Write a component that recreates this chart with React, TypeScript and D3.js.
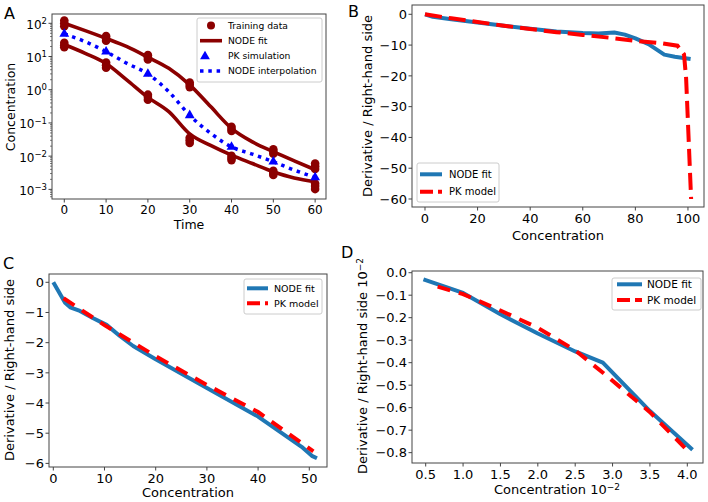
import React from 'react';
import * as d3 from 'd3';

const FONT = '"DejaVu Sans", Verdana, sans-serif';
const DARKRED = '#8b0000';
const BLUE = '#0000ff';
const NODE_BLUE = '#1f77b4';
const PK_RED = '#ff0000';

// ---- panel A: concentration vs time (log) ----
const trainTimes = [0, 10, 20, 30, 40, 50, 60];
const trainUpper = [
  [82, 100, 122], [30, 35, 41], [8.2, 9.5, 11], [1.2, 1.4, 1.65],
  [0.057, 0.066, 0.077], [0.0118, 0.0138, 0.016], [0.0041, 0.005, 0.006],
];
const trainLower = [
  [19, 22, 26], [4.6, 5.5, 6.6], [0.5, 0.6, 0.71], [0.025, 0.03, 0.036],
  [0.0076, 0.0088, 0.0102], [0.0027, 0.0031, 0.0036], [0.00102, 0.00126, 0.0015],
];
const fitTimes = [0, 5, 10, 15, 20, 25, 30, 35, 40, 45, 50, 55, 60];
const fitUpper = [100, 60, 35, 19.7, 9.5, 4.4, 1.4, 0.31, 0.069, 0.027, 0.0136, 0.0072, 0.0039];
const fitLower = [23, 12.5, 6.2, 1.95, 0.59, 0.22, 0.047, 0.021, 0.0107, 0.006, 0.0034, 0.0022, 0.0017];
const pkSimulation = [48, 14, 3.0, 0.17, 0.019, 0.0068, 0.0023];
const nodeInterpolation = [48, 28, 14, 6.2, 3.0, 0.87, 0.17, 0.049, 0.019, 0.0115, 0.0068, 0.0038, 0.0023];
const logTickExps = [-3, -2, -1, 0, 1, 2];
const timeTicks = [0, 10, 20, 30, 40, 50, 60];

// ---- panel B ----
const bNodeX = [0, 3, 10, 20, 30, 40, 50, 60, 66, 72, 76, 80, 85, 88, 91, 95, 101];
const bNodeY = [0, -0.8, -1.6, -2.7, -3.7, -4.7, -5.6, -6.1, -6.2, -5.9, -6.6, -7.8, -9.7, -11.4, -13.1, -13.8, -14.5];
const bPkX = [0, 10, 20, 30, 40, 50, 60, 70, 80, 90, 96, 98.5, 99.3, 101.2];
const bPkY = [0, -1.3, -2.5, -3.7, -4.8, -5.8, -6.7, -7.6, -8.6, -9.4, -10.2, -13, -20.8, -60];
const bXTicks = [0, 20, 40, 60, 80, 100];
const bYTicks = [0, -10, -20, -30, -40, -50, -60];

// ---- panel C ----
const cNodeX = [0, 2.3, 3.3, 5.2, 7.8, 10.4, 13, 15.6, 20, 30, 40, 48.5, 50.5, 51.5];
const cNodeY = [0, -0.68, -0.83, -0.95, -1.19, -1.41, -1.78, -2.11, -2.55, -3.5, -4.45, -5.45, -5.75, -5.83];
const cPkX = [2, 10, 20, 30, 40, 50.8];
const cPkY = [-0.53, -1.42, -2.45, -3.4, -4.3, -5.6];
const cXTicks = [0, 10, 20, 30, 40, 50];
const cYTicks = [0, -1, -2, -3, -4, -5, -6];

// ---- panel D ----
const dNodeX = [0.47, 1.0, 1.5, 2.0, 2.5, 2.87, 3.5, 4.07];
const dNodeY = [-0.03, -0.09, -0.185, -0.27, -0.35, -0.4, -0.615, -0.787];
const dPkX = [0.66, 1.0, 1.5, 2.0, 2.5, 2.88, 3.5, 4.04];
const dPkY = [-0.062, -0.095, -0.168, -0.245, -0.345, -0.447, -0.62, -0.803];
const dXTicks = [0.5, 1.0, 1.5, 2.0, 2.5, 3.0, 3.5, 4.0];
const dYTicks = [0, -0.1, -0.2, -0.3, -0.4, -0.5, -0.6, -0.7, -0.8];

const fmtInt = d3.format('d');
const fmt1 = (v: number) => (Math.abs(v) < 1e-9 ? '0.0' : d3.format('.1f')(v));

function Frame({ x0, x1, y0, y1 }) {
  return <rect x={x0} y={y0} width={x1 - x0} height={y1 - y0} fill="none" stroke="#444" strokeWidth={1} />;
}

function XTicks({ scale, ticks, y, fs, fmt }) {
  return (
    <g>
      {ticks.map((t) => (
        <g key={t}>
          <line x1={scale(t)} x2={scale(t)} y1={y} y2={y + 3.5} stroke="#444" />
          <text x={scale(t)} y={y + 6} dy="0.76em" textAnchor="middle" fontSize={fs}>{fmt(t)}</text>
        </g>
      ))}
    </g>
  );
}

function YTicks({ scale, ticks, x, fs, fmt }) {
  return (
    <g>
      {ticks.map((t) => (
        <g key={t}>
          <line x1={x - 3.5} x2={x} y1={scale(t)} y2={scale(t)} stroke="#444" />
          <text x={x - 5} y={scale(t)} dy="0.36em" textAnchor="end" fontSize={fs}>{fmt(t)}</text>
        </g>
      ))}
    </g>
  );
}

function PanelA() {
  const x = d3.scaleLinear().domain([-2.94, 62.6]).range([52, 326]);
  const y = d3.scaleLog().domain([10 ** -3.29, 10 ** 2.28]).range([199, 14]);
  const line = d3.line<[number, number]>().x((d) => x(d[0])).y((d) => y(d[1])).curve(d3.curveMonotoneX);
  const minor: number[] = [];
  for (let k = -4; k <= 2; k++) for (let m = 2; m <= 9; m++) {
    const v = m * 10 ** k;
    if (v > 10 ** -3.29 && v < 10 ** 2.28) minor.push(v);
  }
  const tri = d3.symbol(d3.symbolTriangle, 42)();
  return (
    <g>
      <defs>
        <clipPath id="clipA"><rect x={52} y={14} width={274} height={185} /></clipPath>
      </defs>
      <g clipPath="url(#clipA)">
        {trainTimes.map((t, i) => [...trainUpper[i], ...trainLower[i]].map((v, j) => (
          <circle key={`${i}-${j}`} cx={x(t)} cy={y(v)} r={4.3} fill={DARKRED} />
        )))}
        <path d={line(fitTimes.map((t, i) => [t, fitUpper[i]]))} fill="none" stroke={DARKRED} strokeWidth={3.6} />
        <path d={line(fitTimes.map((t, i) => [t, fitLower[i]]))} fill="none" stroke={DARKRED} strokeWidth={3.6} />
        {trainTimes.map((t, i) => (
          <path key={t} d={tri} transform={`translate(${x(t)},${y(pkSimulation[i])})`} fill={BLUE} />
        ))}
        <path d={line(fitTimes.map((t, i) => [t, nodeInterpolation[i]]))} fill="none" stroke={BLUE}
          strokeWidth={3.5} strokeDasharray="3.5 4.8" />
      </g>
      <Frame x0={52} x1={326} y0={14} y1={199} />
      {minor.map((v) => <line key={v} x1={50} x2={52} y1={y(v)} y2={y(v)} stroke="#444" strokeWidth={0.7} />)}
      {logTickExps.map((e) => (
        <g key={e}>
          <line x1={48.5} x2={52} y1={y(10 ** e)} y2={y(10 ** e)} stroke="#444" />
          <text x={47} y={y(10 ** e)} dy="0.45em" textAnchor="end" fontSize={12}>
            10<tspan dy="-0.55em" fontSize={8.5}>{e < 0 ? `\u2212${-e}` : `${e}`}</tspan>
          </text>
        </g>
      ))}
      <XTicks scale={x} ticks={timeTicks} y={199} fs={12} fmt={fmtInt} />
      <text x={189} y={229} textAnchor="middle" fontSize={12.5}>Time</text>
      <text transform="translate(14.5,107) rotate(-90)" textAnchor="middle" fontSize={12.5}>Concentration</text>
      <text x={4} y={19} fontSize={16}>A</text>
      <g fontSize={9.2}>
        <rect x={197} y={18} width={125} height={64} rx={2} fill="#fff" fillOpacity={0.85} stroke="#ccc" />
        <circle cx={211} cy={25.5} r={4} fill={DARKRED} />
        <text x={228} y={25.5} dy="0.35em">Training data</text>
        <line x1={200} x2={222} y1={40.7} y2={40.7} stroke={DARKRED} strokeWidth={3.6} />
        <text x={228} y={40.7} dy="0.35em">NODE fit</text>
        <path d={tri} transform="translate(205,56.5)" fill={BLUE} />
        <text x={228} y={56} dy="0.35em">PK simulation</text>
        <line x1={200} x2={222} y1={71} y2={71} stroke={BLUE} strokeWidth={3.5} strokeDasharray="3.5 4.8" />
        <text x={228} y={71} dy="0.35em">NODE interpolation</text>
      </g>
    </g>
  );
}

function Legend({ x0, y0, w, h, lx0, lx1, ty, tx, fs }) {
  return (
    <g fontSize={fs}>
      <rect x={x0} y={y0} width={w} height={h} rx={2} fill="#fff" fillOpacity={0.85} stroke="#ccc" />
      <line x1={lx0} x2={lx1} y1={ty[0]} y2={ty[0]} stroke={NODE_BLUE} strokeWidth={4} />
      <text x={tx} y={ty[0]} dy="0.35em">NODE fit</text>
      <line x1={lx0} x2={lx1} y1={ty[1]} y2={ty[1]} stroke={PK_RED} strokeWidth={4} strokeDasharray="13 5" />
      <text x={tx} y={ty[1]} dy="0.35em">PK model</text>
    </g>
  );
}

function XYPanel({ id, box, xDom, yDom, nodeX, nodeY, pkX, pkY, xTicks, yTicks, fmtX, fmtY, dash, children }) {
  const [x0, x1, y0, y1] = box;
  const x = d3.scaleLinear().domain(xDom).range([x0, x1]);
  const y = d3.scaleLinear().domain(yDom).range([y1, y0]);
  const path = (xs: number[], ys: number[]) =>
    d3.line<number>().x((d) => x(d)).y((_, i) => y(ys[i]))(xs);
  return (
    <g>
      <defs>
        <clipPath id={id}><rect x={x0} y={y0} width={x1 - x0} height={y1 - y0} /></clipPath>
      </defs>
      <g clipPath={`url(#${id})`}>
        <path d={path(nodeX, nodeY)} fill="none" stroke={NODE_BLUE} strokeWidth={4} strokeLinejoin="round" />
        <path d={path(pkX, pkY)} fill="none" stroke={PK_RED} strokeWidth={4} strokeDasharray={dash} />
      </g>
      <Frame x0={x0} x1={x1} y0={y0} y1={y1} />
      <XTicks scale={x} ticks={xTicks} y={y1} fs={13} fmt={fmtX} />
      <YTicks scale={y} ticks={yTicks} x={x0} fs={13} fmt={fmtY} />
      {children}
    </g>
  );
}

export default function App() {
  return (
    <svg width={708} height={502} fontFamily={FONT}
      style={{ position: 'absolute', left: 0, top: 0, background: '#fff' }}>
      <PanelA />
      <XYPanel id="clipB" box={[412, 704, 5, 207]} xDom={[-4.94, 106.1]} yDom={[-62.6, 3.02]}
        nodeX={bNodeX} nodeY={bNodeY} pkX={bPkX} pkY={bPkY} xTicks={bXTicks} yTicks={bYTicks}
        fmtX={fmtInt} fmtY={fmtInt} dash="17 7">
        <text x={558} y={240} textAnchor="middle" fontSize={13}>Concentration</text>
        <text transform="translate(372,106) rotate(-90)" textAnchor="middle" fontSize={13}>Derivative / Right-hand side</text>
        <text x={348} y={17} fontSize={16}>B</text>
        <Legend x0={417} y0={163} w={82} h={39} lx0={420} lx1={442} ty={[174.3, 191.7]} tx={449} fs={10} />
      </XYPanel>
      <XYPanel id="clipC" box={[49, 327, 274, 467]} xDom={[-0.84, 53.46]} yDom={[-6.12, 0.275]}
        nodeX={cNodeX} nodeY={cNodeY} pkX={cPkX} pkY={cPkY} xTicks={cXTicks} yTicks={cYTicks}
        fmtX={fmtInt} fmtY={fmtInt} dash="13 9">
        <text x={188} y={497} textAnchor="middle" fontSize={13}>Concentration</text>
        <text transform="translate(14,370) rotate(-90)" textAnchor="middle" fontSize={13}>Derivative / Right-hand side</text>
        <text x={3} y={269} fontSize={16}>C</text>
        <Legend x0={244} y0={279} w={78} h={35} lx0={247} lx1={268} ty={[288.3, 303.3]} tx={274} fs={9.5} />
      </XYPanel>
      <XYPanel id="clipD" box={[412, 703, 271, 463]} xDom={[0.3167, 4.21]} yDom={[-0.846, 0.0076]}
        nodeX={dNodeX} nodeY={dNodeY} pkX={dPkX} pkY={dPkY} xTicks={dXTicks} yTicks={dYTicks}
        fmtX={fmt1} fmtY={fmt1} dash="13 9">
        <text x={557} y={494} textAnchor="middle" fontSize={13}>
          Concentration 10<tspan dy="-0.5em" fontSize={9}>{'\u22122'}</tspan>
        </text>
        <text transform="translate(367,366) rotate(-90)" textAnchor="middle" fontSize={13}>
          Derivative / Right-hand side 10<tspan dy="-0.5em" fontSize={9}>{'\u22122'}</tspan>
        </text>
        <text x={341} y={258} fontSize={16}>D</text>
        <Legend x0={612} y0={278} w={89} h={32} lx0={617} lx1={642} ty={[284.3, 300]} tx={647} fs={10.5} />
      </XYPanel>
    </svg>
  );
}
